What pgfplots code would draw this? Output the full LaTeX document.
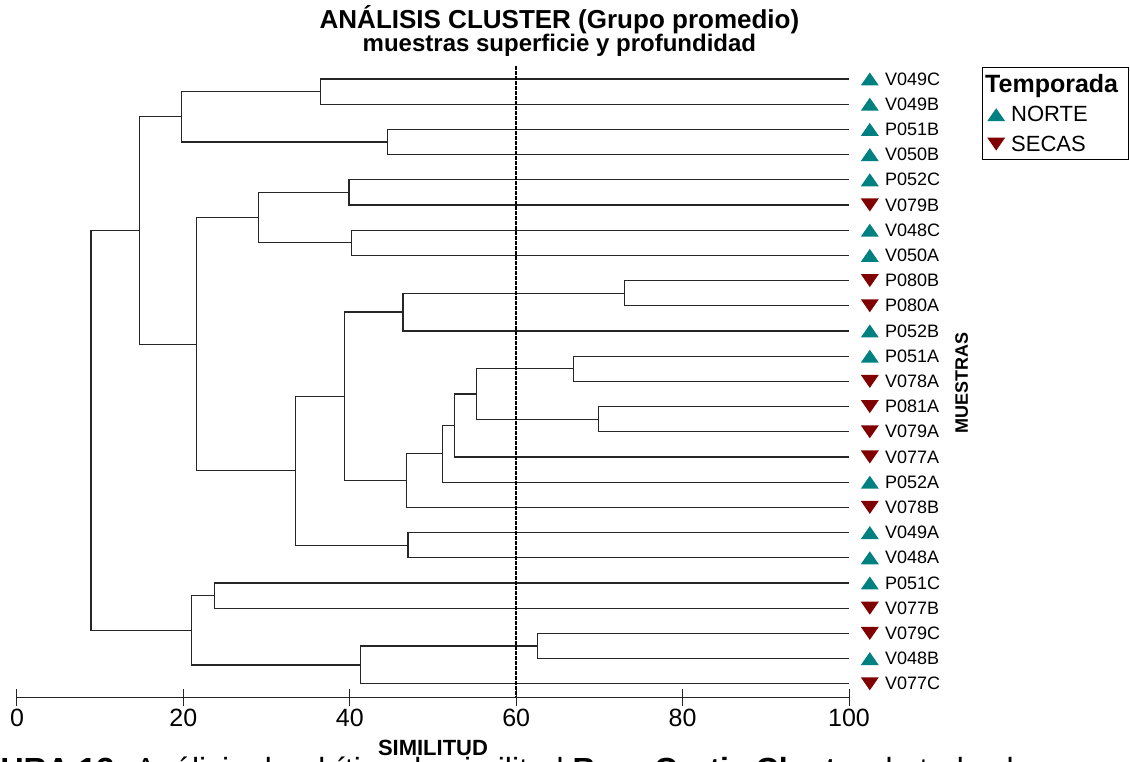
\documentclass[border=0pt]{standalone}
\usepackage{pgfplots}
\pgfplotsset{compat=1.18}
\usepackage{pgfplotstable}
\usepackage{fontspec}
\setmainfont{Liberation Sans}
\definecolor{norte}{RGB}{0,128,128}
\definecolor{secas}{RGB}{128,0,0}

% triangulos centrados en el punto
\pgfdeclareplotmark{tup}{%
  \pgfpathmoveto{\pgfqpoint{0pt}{6.5pt}}%
  \pgfpathlineto{\pgfqpoint{9pt}{-6.5pt}}%
  \pgfpathlineto{\pgfqpoint{-9pt}{-6.5pt}}%
  \pgfpathclose\pgfusepathqfill}
\pgfdeclareplotmark{tdown}{%
  \pgfpathmoveto{\pgfqpoint{0pt}{-6.5pt}}%
  \pgfpathlineto{\pgfqpoint{9pt}{6.5pt}}%
  \pgfpathlineto{\pgfqpoint{-9pt}{6.5pt}}%
  \pgfpathclose\pgfusepathqfill}

\tikzset{lab/.style={anchor=west, text=black, inner sep=0pt, xshift=15pt, font=\fontsize{18}{20}\selectfont}}
\pgfplotsset{
  dend/.style={black!85, line width=1.3pt, forget plot},
  leyimg/.style={legend image code/.code={\path[draw=none] (0pt,0pt) rectangle (22pt,1pt); \draw[##1] plot coordinates {(9pt,0pt)};}},
}

% muestras por temporada (y = -posicion en el dendrograma)
\pgfplotstableread{
x y label
102.5 -1 V049C
102.5 -2 V049B
102.5 -3 P051B
102.5 -4 V050B
102.5 -5 P052C
102.5 -7 V048C
102.5 -8 V050A
102.5 -11 P052B
102.5 -12 P051A
102.5 -17 P052A
102.5 -19 V049A
102.5 -20 V048A
102.5 -21 P051C
102.5 -24 V048B
}\norte
\pgfplotstableread{
x y label
102.5 -6 V079B
102.5 -9 P080B
102.5 -10 P080A
102.5 -13 V078A
102.5 -14 P081A
102.5 -15 V079A
102.5 -16 V077A
102.5 -18 V078B
102.5 -22 V077B
102.5 -23 V079C
102.5 -25 V077C
}\secas

\begin{document}
\begin{tikzpicture}
\begin{axis}[
    width=832pt, height=631pt, scale only axis,
    xmin=0, xmax=100, ymin=-25.524, ymax=-0.484,
    axis x line*=bottom, axis y line=none,
    x axis line style={line width=1pt, black!85},
    xtick={0,20,40,60,80,100}, ytick=\empty,
    tick align=center, major tick length=17pt,
    tick style={line width=1pt, black!85},
    xticklabel style={font=\fontsize{25}{27}\selectfont, inner sep=0pt, anchor=north, yshift=-3pt},
    /pgf/number format/assume math mode=true,
    xlabel={SIMILITUD},
    xlabel style={at={(axis description cs:0.5,-0.0808)}, anchor=center, font=\fontsize{22}{24}\selectfont\bfseries},
    clip=false,
    legend style={at={(1.1595,0.9989)}, anchor=north west, draw=black, line width=1pt,
        font=\fontsize{22}{24}\selectfont, inner sep=5pt, row sep=8.5pt},
    legend cell align=left,
]
\addlegendimage{empty legend}
\addlegendentry{\hspace*{-26pt}\fontsize{25}{27}\selectfont\bfseries Temporada\hspace*{3pt}}

% ramas del dendrograma
\addplot[dend] coordinates {(100,-1) (36.5,-1) (36.5,-2) (100,-2)};
\addplot[dend] coordinates {(100,-3) (44.5,-3) (44.5,-4) (100,-4)};
\addplot[dend] coordinates {(36.5,-1.5) (19.8,-1.5) (19.8,-3.5) (44.5,-3.5)};
\addplot[dend] coordinates {(100,-5) (39.9,-5) (39.9,-6) (100,-6)};
\addplot[dend] coordinates {(100,-7) (40.2,-7) (40.2,-8) (100,-8)};
\addplot[dend] coordinates {(39.9,-5.5) (29.0,-5.5) (29.0,-7.5) (40.2,-7.5)};
\addplot[dend] coordinates {(100,-9) (73.0,-9) (73.0,-10) (100,-10)};
\addplot[dend] coordinates {(73.0,-9.5) (46.4,-9.5) (46.4,-11) (100,-11)};
\addplot[dend] coordinates {(100,-12) (66.9,-12) (66.9,-13) (100,-13)};
\addplot[dend] coordinates {(100,-14) (69.9,-14) (69.9,-15) (100,-15)};
\addplot[dend] coordinates {(66.9,-12.5) (55.2,-12.5) (55.2,-14.5) (69.9,-14.5)};
\addplot[dend] coordinates {(55.2,-13.5) (52.6,-13.5) (52.6,-16) (100,-16)};
\addplot[dend] coordinates {(52.6,-14.75) (51.1,-14.75) (51.1,-17) (100,-17)};
\addplot[dend] coordinates {(51.1,-15.875) (46.8,-15.875) (46.8,-18) (100,-18)};
\addplot[dend] coordinates {(46.4,-10.25) (39.4,-10.25) (39.4,-16.9375) (46.8,-16.9375)};
\addplot[dend] coordinates {(100,-19) (47.0,-19) (47.0,-20) (100,-20)};
\addplot[dend] coordinates {(39.4,-13.594) (33.5,-13.594) (33.5,-19.5) (47.0,-19.5)};
\addplot[dend] coordinates {(29.0,-6.5) (21.6,-6.5) (21.6,-16.547) (33.5,-16.547)};
\addplot[dend] coordinates {(19.8,-2.5) (14.7,-2.5) (14.7,-11.523) (21.6,-11.523)};
\addplot[dend] coordinates {(100,-21) (23.7,-21) (23.7,-22) (100,-22)};
\addplot[dend] coordinates {(100,-23) (62.6,-23) (62.6,-24) (100,-24)};
\addplot[dend] coordinates {(62.6,-23.5) (41.3,-23.5) (41.3,-25) (100,-25)};
\addplot[dend] coordinates {(23.7,-21.5) (21.0,-21.5) (21.0,-24.25) (41.3,-24.25)};
\addplot[dend] coordinates {(14.7,-7.012) (8.9,-7.012) (8.9,-22.875) (21.0,-22.875)};

% linea de corte
\addplot[black, line width=2.2pt, dash pattern=on 4pt off 1pt, forget plot]
    coordinates {(60,-0.484) (60,-25.524)};

\addplot[only marks, mark=tup, color=norte, leyimg,
    point meta=explicit symbolic, nodes near coords, every node near coord/.style={lab}]
    table[x=x, y=y, meta=label] {\norte};
\addlegendentry{NORTE}
\addplot[only marks, mark=tdown, color=secas, leyimg,
    point meta=explicit symbolic, nodes near coords, every node near coord/.style={lab}]
    table[x=x, y=y, meta=label] {\secas};
\addlegendentry{SECAS}

\coordinate (O) at (axis description cs:0,0);
\node[anchor=base, font=\fontsize{26}{28}\selectfont\bfseries]
    at (axis description cs:0.652,1.0597) {ANÁLISIS CLUSTER (Grupo promedio)};
\node[anchor=base, font=\fontsize{24}{26}\selectfont\bfseries]
    at (axis description cs:0.652,1.0227) {muestras superficie y profundidad};
\node[rotate=90, anchor=center, font=\fontsize{18}{20}\selectfont\bfseries]
    at (axis description cs:1.1355,0.4984) {MUESTRAS};
\node[anchor=base west, inner sep=0pt, font=\fontsize{32}{34}\selectfont]
    at (axis description cs:-0.0841,-0.133)
    {\textbf{FIGURA 13.} Análisis dendrítico de similitud \textbf{Bray-Curtis Cluster} de todas las muestras};
\end{axis}
\pgfresetboundingbox
\path[use as bounding box, shift={(O)}] (-17pt,-64pt) rectangle (1113pt,697pt);
\end{tikzpicture}
\end{document}
